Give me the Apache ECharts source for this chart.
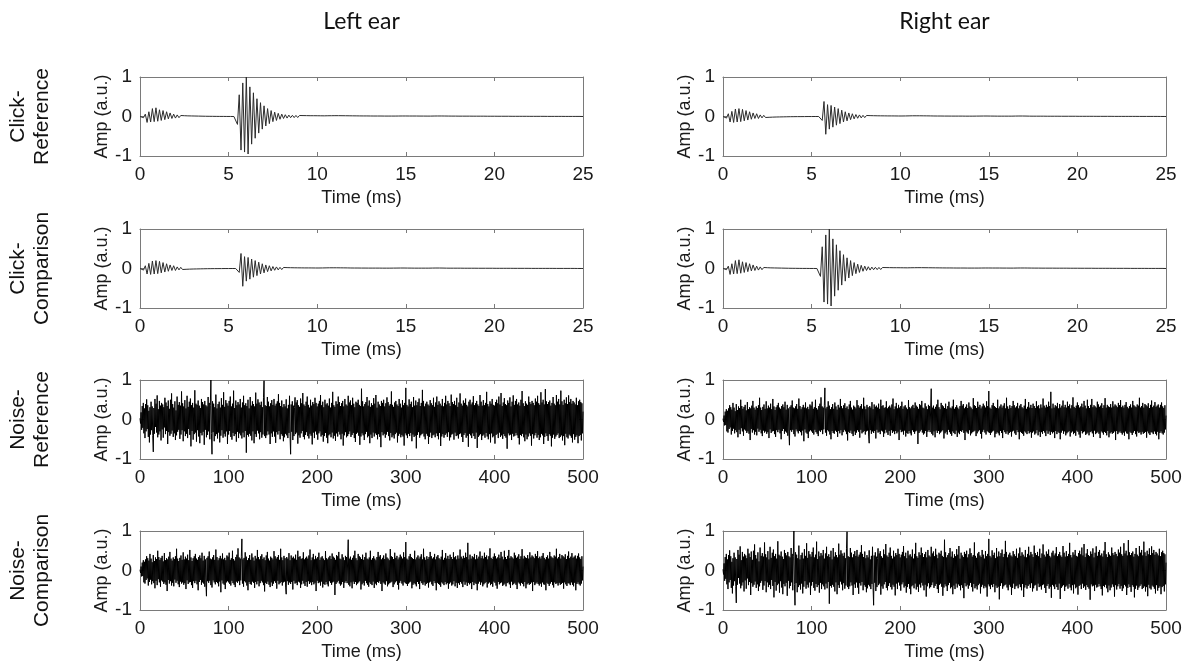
<!DOCTYPE html>
<html>
<head>
<meta charset="utf-8">
<script src="https://cdn.jsdelivr.net/npm/echarts@6/dist/echarts.min.js"></script>
<style>
html, body { margin: 0; padding: 0; background: #fff; }
#main { width: 1189px; height: 667px; }
</style>
</head>
<body>
<div id="main"></div>
<script>
// sample spacing (ms) of the traces
var clickStep = 0.1
var noiseStep = 0.625

var clickTicks = [0, 5, 10, 15, 20, 25]
var noiseTicks = [0, 100, 200, 300, 400, 500]
var ampTicks = [-1, 0, 1]

// strong click (left reference / right comparison), one value per 0.1 ms
var clickLarge = [
    0, 0.04, -0.03, 0.06, -0.15, 0.12, -0.14, 0.2, -0.13, 0.22,
    -0.12, 0.17, -0.1, 0.15, -0.08, 0.12, -0.06, 0.09, -0.05, 0.06,
    -0.04, 0.04, -0.03, 0.025, -0.02, 0.02, -0.018, 0.016, -0.015, 0.014,
    -0.012, 0.012, -0.01, 0.01, -0.008, 0.008, -0.006, 0.006, -0.005, 0.005,
    -0.004, 0.004, -0.003, 0.003, -0.003, 0.002, -0.002, 0.002, -0.002, 0.001,
    -0.001, 0.001, 0, 0, 0, -0.2, 0.55, -0.85, 0.85, -0.9,
    1.0, -0.95, 0.75, -0.7, 0.6, -0.55, 0.45, -0.42, 0.35, -0.32,
    0.27, -0.24, 0.2, -0.18, 0.15, -0.13, 0.11, -0.1, 0.08, -0.07,
    0.06, -0.05, 0.045, -0.04, 0.035, -0.03, 0.03, -0.028, 0.027, -0.026,
    0.025, -0.024, 0.023, -0.022, 0.022, -0.021, 0.02, -0.02, 0.02, -0.019,
    0.019, -0.018, 0.018, -0.018, 0.017, -0.018, 0.019, -0.02, 0.02, -0.021,
    0.021, -0.021, 0.021, -0.02, 0.02, -0.02, 0.019, -0.018, 0.018, -0.017,
    0.017, -0.016, 0.016, -0.015, 0.015, -0.015, 0.014, -0.014, 0.014, -0.013,
    0.013, -0.013, 0.012, -0.012, 0.012, -0.012, 0.012, -0.011, 0.011, -0.011,
    0.011, -0.011, 0.011, -0.01, 0.011, -0.012, 0.012, -0.013, 0.013, -0.013,
    0.013, -0.013, 0.012, -0.012, 0.012, -0.012, 0.012, -0.011, 0.011, -0.011,
    0.011, -0.011, 0.01, -0.01, 0.01, -0.011, 0.012, -0.013, 0.013, -0.013,
    0.013, -0.012, 0.012, -0.011, 0.011, -0.01, 0.01, -0.01, 0.01, -0.009,
    0.009, -0.009, 0.009, -0.009, 0.009, -0.009, 0.009, -0.008, 0.008, -0.008,
    0.008, -0.008, 0.008, -0.008, 0.008, -0.007, 0.007, -0.007, 0.007, -0.007,
    0.007, -0.006, 0.006, -0.006, 0.006, -0.006, 0.006, -0.006, 0.006, -0.005,
    0.005, -0.005, 0.005, -0.005, 0.005, -0.005, 0.005, -0.005, 0.005, -0.004,
    0.004, -0.004, 0.004, -0.004, 0.004, -0.004, 0.004, -0.004, 0.004, -0.004,
    0.003, -0.003, 0.003, -0.003, 0.003, -0.003, 0.003, -0.003, 0.003, -0.003,
    0.002, -0.002, 0.002, -0.002, 0.002, -0.002, 0.002, -0.002, 0.002, -0.002,
    0
]

// weak click (left comparison / right reference)
var clickSmall = [
    0, 0.03, -0.04, 0.07, -0.14, 0.13, -0.15, 0.19, -0.14, 0.2,
    -0.13, 0.18, -0.11, 0.15, -0.09, 0.12, -0.07, 0.09, -0.05, 0.07,
    -0.05, 0.04, -0.035, 0.03, -0.025, 0.022, -0.02, 0.018, -0.016, 0.015,
    -0.013, 0.012, -0.011, 0.01, -0.009, 0.008, -0.007, 0.006, -0.005, 0.005,
    -0.004, 0.004, -0.003, 0.003, -0.003, 0.002, -0.002, 0.002, -0.001, 0.001,
    -0.001, 0, 0, 0, 0, 0, -0.1, 0.38, -0.45, 0.3,
    -0.32, 0.28, -0.27, 0.24, -0.22, 0.2, -0.18, 0.16, -0.14, 0.12,
    -0.11, 0.09, -0.08, 0.07, -0.06, 0.05, -0.045, 0.04, -0.035, 0.03,
    -0.028, 0.026, -0.024, 0.022, -0.02, 0.02, -0.019, 0.018, -0.018, 0.017,
    -0.017, 0.016, -0.016, 0.015, -0.015, 0.015, -0.014, 0.014, -0.014, 0.013,
    -0.013, 0.013, -0.013, 0.014, -0.015, 0.016, -0.017, 0.018, -0.018, 0.018,
    -0.018, 0.018, -0.018, 0.017, -0.016, 0.016, -0.015, 0.015, -0.014, 0.013,
    -0.013, 0.012, -0.012, 0.012, -0.011, 0.011, -0.011, 0.011, -0.01, 0.01,
    -0.01, 0.01, -0.01, 0.01, -0.01, 0.01, -0.01, 0.009, -0.009, 0.009,
    -0.009, 0.009, -0.009, 0.01, -0.011, 0.011, -0.012, 0.012, -0.012, 0.012,
    -0.012, 0.011, -0.011, 0.01, -0.01, 0.009, -0.009, 0.009, -0.009, 0.009,
    -0.009, 0.009, -0.009, 0.009, -0.01, 0.011, -0.012, 0.012, -0.012, 0.012,
    -0.011, 0.011, -0.01, 0.009, -0.009, 0.008, -0.008, 0.008, -0.008, 0.008,
    -0.008, 0.008, -0.007, 0.007, -0.007, 0.007, -0.007, 0.007, -0.007, 0.007,
    -0.006, 0.006, -0.006, 0.006, -0.006, 0.006, -0.006, 0.006, -0.006, 0.006,
    -0.005, 0.005, -0.005, 0.005, -0.005, 0.005, -0.005, 0.005, -0.005, 0.005,
    -0.004, 0.004, -0.004, 0.004, -0.004, 0.004, -0.004, 0.004, -0.004, 0.004,
    -0.003, 0.003, -0.003, 0.003, -0.003, 0.003, -0.003, 0.003, -0.003, 0.003,
    -0.003, 0.003, -0.003, 0.003, -0.002, 0.002, -0.002, 0.002, -0.002, 0.002,
    -0.002, 0.002, -0.002, 0.002, -0.002, 0.002, -0.001, 0.001, -0.001, 0.001,
    0
]

// louder noise (left reference / right comparison), one value per 0.625 ms
var noiseLarge = [
    0.03, -0.1, 0.18, -0.26, 0.34, -0.21, 0.42, -0.35, 0.28, -0.47, 0.39, -0.3, 0.51, -0.24, 0.36, -0.44, 0.22, -0.58, 0.31, -0.38,
    0.45, -0.27, 0.33, -0.41, -0.82, 0.29, -0.36, 0.52, -0.19, 0.4, -0.33, 0.61, -0.45, 0.26, -0.38, 0.47, -0.3, 0.35, -0.53, 0.42,
    -0.25, 0.38, -0.46, 0.31, -0.2, 0.55, -0.37, 0.43, -0.29, 0.34, -0.62, 0.48, -0.32, 0.27, -0.41, 0.5, -0.36, 0.66, -0.28, 0.39,
    -0.44, 0.3, -0.35, 0.46, -0.52, 0.23, -0.4, 0.58, -0.31, 0.37, -0.26, 0.44, -0.49, 0.35, -0.38, 0.71, -0.27, 0.41, -0.55, 0.33,
    -0.3, 0.49, -0.42, 0.28, -0.36, 0.6, -0.47, 0.32, -0.24, 0.45, -0.39, 0.53, -0.68, 0.36, -0.29, 0.42, -0.51, 0.3, -0.37, 0.74,
    -0.33, 0.4, -0.56, 0.37, -0.27, 0.48, -0.43, 0.35, -0.6, 0.29, -0.34, 0.52, -0.4, 0.44, -0.31, 0.38, -0.64, 0.47, -0.26, 0.36,
    -0.45, 0.33, -0.39, 0.57, -0.3, 0.42, -0.5, 0.36, 1.0, -0.35, -0.88, 0.46, -0.32, 0.4, -0.55, 0.31, -0.42, 0.63, -0.37, 0.28,
    -0.48, 0.39, -0.33, 0.45, -0.58, 0.3, -0.41, 0.54, -0.27, 0.37, -0.46, 0.69, -0.36, 0.32, -0.43, 0.49, -0.3, 0.41, -0.62, 0.35,
    -0.38, 0.47, -0.29, 0.58, -0.44, 0.33, -0.51, 0.4, -0.34, 0.73, -0.42, 0.29, -0.37, 0.48, -0.56, 0.36, -0.31, 0.44, -0.47, 0.38,
    -0.35, 0.52, -0.4, 0.3, -0.48, 0.43, -0.33, 0.6, -0.45, 0.36, -0.29, 0.41, -0.84, 0.34, -0.39, 0.5, -0.43, 0.28, -0.36, 0.57,
    -0.41, 0.35, -0.53, 0.46, -0.3, 0.39, -0.6, 0.33, -0.37, 0.68, -0.44, 0.4, -0.28, 0.51, -0.35, 0.43, -0.5, 0.37, -0.32, 0.45,
    -0.46, 0.31, -0.38, 0.55, 0.98, -0.42, 0.36, -0.47, 0.34, -0.4, 0.57, -0.3, 0.45, -0.38, 0.33, -0.62, 0.41, -0.35, 0.49, -0.44,
    0.37, -0.3, 0.52, -0.43, 0.35, -0.59, 0.4, -0.32, 0.46, -0.38, 0.64, -0.29, 0.42, -0.5, 0.34, -0.37, 0.48, -0.41, 0.31, -0.55,
    0.39, -0.45, 0.33, -0.36, 0.51, -0.4, 0.28, -0.47, 0.37, -0.34, 0.6, -0.43, -0.88, 0.38, -0.31, 0.46, -0.52, 0.35, -0.42, 0.3,
    0.56, -0.37, 0.43, -0.33, 0.49, -0.61, 0.36, -0.4, 0.32, -0.46, 0.53, -0.35, 0.41, -0.29, 0.67, -0.44, 0.38, -0.5, 0.34, -0.39,
    0.45, -0.32, 0.58, -0.42, 0.37, -0.48, 0.3, -0.36, 0.5, -0.41, 0.35, -0.63, 0.44, -0.33, 0.39, -0.47, 0.55, -0.3, 0.42, -0.38,
    0.33, -0.51, 0.4, -0.35, 0.47, -0.3, 0.62, -0.43, 0.36, -0.39, 0.45, -0.56, 0.31, -0.42, 0.5, -0.34, 0.38, -0.46, 0.41, -0.6,
    0.35, -0.4, 0.53, -0.37, 0.3, -0.45, 0.42, -0.33, 0.7, -0.48, 0.36, -0.41, 0.32, -0.54, 0.46, -0.35, 0.39, -0.43, 0.58, -0.31,
    0.44, -0.38, 0.34, -0.5, 0.41, -0.36, 0.47, -0.66, 0.33, -0.4, 0.52, -0.32, 0.38, -0.45, 0.35, -0.42, 0.6, -0.37, 0.43, -0.3,
    0.48, -0.44, 0.36, -0.39, 0.55, -0.34, 0.4, -0.47, 0.31, -0.57, 0.45, -0.36, 0.42, -0.33, 0.5, -0.41, 0.37, -0.64, 0.34, -0.43,
    0.78, -0.35, 0.46, -0.4, 0.33, -0.52, 0.39, -0.37, 0.44, -0.31, 0.57, -0.45, 0.35, -0.42, 0.48, -0.6, 0.32, -0.38, 0.41, -0.47,
    0.36, -0.33, 0.54, -0.43, 0.4, -0.35, 0.62, -0.39, 0.3, -0.5, 0.45, -0.37, 0.38, -0.44, 0.34, -0.7, 0.47, -0.32, 0.42, -0.4,
    0.5, -0.36, 0.33, -0.46, 0.41, -0.38, 0.56, -0.31, 0.44, -0.42, 0.35, -0.53, 0.39, -0.34, 0.71, -0.45, 0.37, -0.4, 0.32, -0.48,
    0.43, -0.37, 0.47, -0.33, 0.38, -0.58, 0.34, -0.41, 0.52, -0.36, 0.4, -0.45, 0.3, -0.39, 0.49, -0.43, 0.36, -0.66, 0.42, -0.35,
    0.8, -0.4, 0.37, -0.47, 0.33, -0.36, 0.51, -0.42, 0.39, -0.34, 0.45, -0.55, 0.31, -0.38, 0.57, -0.44, 0.35, -0.41, 0.48, -0.73,
    0.36, -0.39, 0.44, -0.32, 0.53, -0.46, 0.34, -0.4, 0.42, -0.37, 0.75, -0.35, 0.47, -0.43, 0.33, -0.5, 0.4, -0.36, 0.45, -0.41,
    0.38, -0.62, 0.35, -0.44, 0.49, -0.33, 0.41, -0.47, 0.36, -0.4, 0.55, -0.38, 0.32, -0.45, 0.43, -0.35, 0.58, -0.42, 0.37, -0.5,
    0.46, -0.34, 0.4, -0.67, 0.35, -0.43, 0.52, -0.37, 0.33, -0.46, 0.42, -0.39, 0.6, -0.35, 0.38, -0.44, 0.47, -0.32, 0.41, -0.53,
    0.34, -0.45, 0.63, -0.38, 0.44, -0.36, 0.39, -0.51, 0.47, -0.33, 0.36, -0.42, 0.55, -0.4, 0.32, -0.48, 0.43, -0.37, 0.66, -0.35,
    0.4, -0.44, 0.35, -0.57, 0.48, -0.39, 0.42, -0.34, 0.53, -0.46, 0.37, -0.41, 0.33, -0.69, 0.45, -0.36, 0.5, -0.4, 0.38, -0.47,
    0.43, -0.35, 0.59, -0.42, 0.36, -0.49, 0.41, -0.33, 0.47, -0.72, 0.38, -0.44, 0.34, -0.4, 0.62, -0.37, 0.45, -0.52, 0.35, -0.41,
    0.49, -0.38, 0.36, -0.46, 0.42, -0.34, 0.7, -0.43, 0.39, -0.5, 0.33, -0.37, 0.46, -0.58, 0.4, -0.35, 0.52, -0.45, 0.37, -0.42,
    0.35, -0.61, 0.44, -0.39, 0.5, -0.36, 0.41, -0.47, 0.58, -0.33, 0.38, -0.44, 0.67, -0.4, 0.34, -0.49, 0.43, -0.37, 0.54, -0.42,
    0.39, -0.46, 0.36, -0.74, 0.48, -0.35, 0.42, -0.4, 0.56, -0.38, 0.33, -0.52, 0.45, -0.36, 0.61, -0.43, 0.37, -0.41, 0.47, -0.34,
    0.52, -0.4, 0.38, -0.47, 0.43, -0.63, 0.35, -0.39, 0.5, -0.42, 0.72, -0.36, 0.41, -0.45, 0.34, -0.55, 0.46, -0.38, 0.4, -0.5,
    0.37, -0.43, 0.58, -0.35, 0.44, -0.41, 0.39, -0.66, 0.47, -0.37, 0.42, -0.48, 0.36, -0.4, 0.53, -0.34, 0.45, -0.46, 0.6, -0.39,
    0.41, -0.52, 0.37, -0.45, 0.69, -0.36, 0.43, -0.4, 0.5, -0.62, 0.38, -0.44, 0.77, -0.35, 0.46, -0.42, 0.39, -0.54, 0.44, -0.37,
    0.48, -0.41, 0.35, -0.68, 0.42, -0.46, 0.57, -0.38, 0.4, -0.49, 0.36, -0.43, 0.62, -0.39, 0.45, -0.35, 0.52, -0.47, 0.38, -0.44,
    0.73, -0.4, 0.46, -0.53, 0.37, -0.42, 0.5, -0.65, 0.41, -0.36, 0.56, -0.45, 0.39, -0.48, 0.61, -0.38, 0.44, -0.41, 0.52, -0.46,
    0.4, -0.58, 0.47, -0.37, 0.43, -0.51, 0.38, -0.44, 0.55, -0.4, 0.36, -0.6, 0.46, -0.42, 0.5, -0.39, 0.44, -0.53, 0.41, -0.35,
    0.2
]

// quieter noise (left comparison / right reference)
var noiseSmall = [
    0.02, -0.06, 0.1, -0.15, 0.2, -0.14, 0.26, -0.3, 0.22, -0.33, 0.28, -0.24, 0.36, -0.2, 0.31, -0.38, 0.25, -0.29, 0.42, -0.23,
    0.3, -0.35, 0.21, -0.27, 0.39, -0.32, 0.24, -0.45, 0.33, -0.26, 0.29, -0.37, 0.5, -0.22, 0.34, -0.3, 0.27, -0.41, 0.32, -0.25,
    0.37, -0.28, 0.23, -0.34, 0.44, -0.3, 0.26, -0.36, 0.31, -0.52, 0.28, -0.24, 0.35, -0.33, 0.47, -0.27, 0.3, -0.38, 0.25, -0.31,
    0.33, -0.4, 0.29, -0.23, 0.36, -0.31, 0.55, -0.26, 0.3, -0.35, 0.24, -0.42, 0.32, -0.28, 0.38, -0.33, 0.27, -0.3, 0.46, -0.36,
    0.28, -0.32, 0.35, -0.47, 0.3, -0.25, 0.4, -0.34, 0.26, -0.3, 0.52, -0.29, 0.33, -0.37, 0.24, -0.44, 0.31, -0.27, 0.36, -0.32,
    0.42, -0.26, 0.3, -0.35, 0.27, -0.5, 0.34, -0.29, 0.38, -0.24, 0.31, -0.36, 0.45, -0.3, 0.25, -0.33, 0.37, -0.41, 0.28, -0.3,
    -0.65, 0.32, -0.27, 0.36, -0.31, 0.48, -0.26, 0.3, -0.37, 0.28, -0.43, 0.33, -0.25, 0.39, -0.3, 0.27, -0.35, 0.53, -0.29, 0.34,
    -0.32, 0.26, -0.4, 0.31, -0.28, 0.37, -0.55, 0.3, -0.25, 0.43, -0.33, 0.28, -0.36, 0.32, -0.47, 0.26, -0.3, 0.38, -0.27, 0.35,
    -0.3, 0.45, -0.34, 0.27, -0.38, 0.31, -0.26, 0.5, -0.32, 0.29, -0.36, 0.25, -0.42, 0.34, -0.28, 0.4, -0.31, 0.56, -0.27, 0.33,
    -0.37, 0.3, -0.25, 0.36, 0.8, -0.33, 0.28, -0.41, 0.32, -0.27, 0.46, -0.3, 0.35, -0.38, 0.26, -0.5, 0.31, -0.29, 0.39, -0.34,
    0.27, -0.36, 0.43, -0.28, 0.33, -0.31, 0.25, -0.44, 0.37, -0.29, 0.3, -0.35, 0.52, -0.27, 0.34, -0.4, 0.28, -0.32, 0.36, -0.26,
    0.41, -0.3, 0.29, -0.37, 0.33, -0.53, 0.26, -0.31, 0.38, -0.34, 0.47, -0.28, 0.3, -0.36, 0.25, -0.42, 0.35, -0.3, 0.32, -0.39,
    0.28, -0.33, 0.49, -0.27, 0.36, -0.31, 0.3, -0.46, 0.34, -0.26, 0.39, -0.35, 0.27, -0.32, 0.55, -0.29, 0.33, -0.38, 0.26, -0.3,
    0.37, -0.28, 0.31, -0.42, -0.6, 0.34, -0.27, 0.3, -0.36, 0.44, -0.3, 0.26, -0.34, 0.38, -0.29, 0.32, -0.48, 0.35, -0.26, 0.3,
    -0.33, 0.4, -0.31, 0.27, -0.37, 0.5, -0.28, 0.34, -0.3, 0.36, -0.44, 0.29, -0.35, 0.31, -0.26, 0.46, -0.33, 0.28, -0.39, 0.32,
    -0.29, 0.35, -0.41, 0.3, -0.27, 0.38, -0.34, 0.53, -0.3, 0.26, -0.37, 0.33, -0.29, 0.42, -0.35, 0.28, -0.31, 0.37, -0.52, 0.3,
    -0.26, 0.34, -0.32, 0.45, -0.3, 0.27, -0.38, 0.33, -0.28, 0.36, -0.43, 0.3, -0.34, 0.26, -0.36, 0.49, -0.29, 0.31, -0.35, 0.28,
    -0.4, 0.33, -0.27, 0.37, -0.31, 0.29, -0.36, 0.43, -0.3, 0.35, -0.28, 0.32, -0.62, 0.27, -0.34, 0.39, -0.3, 0.36, -0.26, 0.47,
    -0.33, 0.3, -0.38, 0.28, -0.35, 0.41, -0.29, 0.33, -0.44, 0.26, -0.31, 0.37, -0.27, 0.34, -0.32, 0.29, 0.78, -0.36, 0.3, -0.4,
    0.35, -0.3, 0.27, -0.45, 0.32, -0.28, 0.38, -0.34, 0.5, -0.29, 0.31, -0.37, 0.26, -0.33, 0.42, -0.3, 0.36, -0.27, 0.33, -0.48,
    0.29, -0.35, 0.4, -0.31, 0.27, -0.38, 0.34, -0.26, 0.45, -0.32, 0.3, -0.36, 0.28, -0.41, 0.33, -0.3, 0.5, -0.34, 0.27, -0.37,
    0.31, -0.28, 0.36, -0.44, 0.3, -0.33, 0.26, -0.37, 0.34, -0.29, 0.47, -0.31, 0.35, -0.27, 0.39, -0.34, 0.28, -0.52, 0.32, -0.3,
    0.38, -0.33, 0.29, -0.36, 0.43, -0.27, 0.33, -0.4, 0.3, -0.35, 0.26, -0.32, 0.54, -0.3, 0.36, -0.28, 0.34, -0.42, 0.29, -0.35,
    0.45, -0.3, 0.32, -0.27, 0.37, -0.36, 0.28, -0.48, 0.33, -0.31, 0.4, -0.26, 0.35, -0.33, 0.3, -0.38, 0.46, -0.29, 0.34, -0.32,
    0.72, -0.34, 0.3, -0.39, 0.27, -0.33, 0.36, -0.3, 0.42, -0.28, 0.34, -0.45, 0.31, -0.36, 0.29, -0.32, 0.5, -0.35, 0.28, -0.4,
    0.33, -0.29, 0.38, -0.34, 0.3, -0.47, 0.35, -0.27, 0.41, -0.32, 0.28, -0.36, 0.55, -0.3, 0.33, -0.38, 0.27, -0.34, 0.36, -0.31,
    0.29, -0.43, 0.34, -0.3, 0.47, -0.28, 0.36, -0.35, 0.3, -0.39, 0.33, -0.27, 0.42, -0.32, 0.28, -0.5, 0.35, -0.31, 0.39, -0.34,
    0.31, -0.36, 0.28, -0.41, 0.35, -0.3, 0.52, -0.33, 0.27, -0.37, 0.32, -0.29, 0.44, -0.35, 0.3, -0.32, 0.37, -0.46, 0.29, -0.33,
    0.4, -0.3, 0.34, -0.38, 0.29, -0.35, 0.46, -0.27, 0.33, -0.4, 0.36, -0.31, 0.28, -0.44, 0.38, -0.32, 0.3, -0.36, 0.53, -0.29,
    0.35, -0.33, 0.3, -0.42, 0.37, -0.28, 0.32, -0.36, 0.45, -0.3, 0.34, -0.39, 0.7, -0.31, 0.28, -0.35, 0.4, -0.32, 0.3, -0.47,
    0.36, -0.29, 0.33, -0.37, 0.42, -0.31, 0.28, -0.34, 0.39, -0.5, 0.3, -0.33, 0.35, -0.28, 0.48, -0.36, 0.31, -0.3, 0.37, -0.4,
    0.3, -0.35, 0.45, -0.32, 0.34, -0.29, 0.38, -0.43, 0.28, -0.33, 0.36, -0.3, 0.56, -0.37, 0.32, -0.34, 0.29, -0.41, 0.35, -0.28,
    0.43, -0.31, 0.36, -0.38, 0.3, -0.46, 0.33, -0.29, 0.4, -0.35, 0.31, -0.32, 0.47, -0.3, 0.35, -0.39, 0.28, -0.36, 0.5, -0.33,
    0.34, -0.4, 0.29, -0.32, 0.37, -0.3, 0.52, -0.35, 0.31, -0.44, 0.36, -0.28, 0.33, -0.37, 0.3, -0.34, 0.45, -0.31, 0.38, -0.36,
    0.32, -0.47, 0.35, -0.3, 0.41, -0.33, 0.29, -0.38, 0.36, -0.31, 0.54, -0.34, 0.3, -0.4, 0.37, -0.29, 0.33, -0.45, 0.31, -0.35,
    0.39, -0.32, 0.3, -0.36, 0.46, -0.34, 0.33, -0.3, 0.38, -0.52, 0.35, -0.29, 0.31, -0.37, 0.42, -0.33, 0.36, -0.3, 0.49, -0.34,
    0.31, -0.38, 0.35, -0.33, 0.3, -0.41, 0.37, -0.3, 0.44, -0.35, 0.32, -0.36, 0.28, -0.5, 0.34, -0.31, 0.38, -0.34, 0.3, -0.39,
    0.47, -0.33, 0.36, -0.29, 0.33, -0.37, 0.31, -0.43, 0.38, -0.3, 0.35, -0.34, 0.55, -0.32, 0.3, -0.38, 0.34, -0.31, 0.42, -0.36,
    0.3, -0.34, 0.39, -0.31, 0.36, -0.46, 0.33, -0.3, 0.41, -0.35, 0.29, -0.39, 0.37, -0.32, 0.48, -0.33, 0.31, -0.37, 0.35, -0.3,
    0.44, -0.36, 0.32, -0.4, 0.35, -0.31, 0.38, -0.5, 0.3, -0.34, 0.37, -0.3, 0.43, -0.35, 0.33, -0.38, 0.29, -0.33, 0.36, -0.25,
    0.1
]

var columnTitles = ['Left ear', 'Right ear']
var rowTitles = ['Click-\nReference', 'Click-\nComparison', 'Noise-\nReference', 'Noise-\nComparison']

// panels in reading order: left/right for each row
var panels = [
    {values: clickLarge, step: clickStep, ticks: clickTicks},
    {values: clickSmall, step: clickStep, ticks: clickTicks},
    {values: clickSmall, step: clickStep, ticks: clickTicks},
    {values: clickLarge, step: clickStep, ticks: clickTicks},
    {values: noiseLarge, step: noiseStep, ticks: noiseTicks},
    {values: noiseSmall, step: noiseStep, ticks: noiseTicks},
    {values: noiseSmall, step: noiseStep, ticks: noiseTicks},
    {values: noiseLarge, step: noiseStep, ticks: noiseTicks}
]

var colLeft = [140, 723]
var rowTop = [77, 229, 380, 531]
var plotW = 443
var plotH = 79
var axisColor = '#7a7a7a'
var labelFont = 'Liberation Sans, Arial, sans-serif'

function buildChart() {
    var chart = echarts.init(document.getElementById('main'))
    var grid = [], xAxis = [], yAxis = [], series = [], graphic = []

    panels.forEach(function (p, i) {
        var row = Math.floor(i / 2), col = i % 2
        var xMax = p.ticks[p.ticks.length - 1]
        var xInterval = p.ticks[1] - p.ticks[0]
        grid.push({left: colLeft[col], top: rowTop[row], width: plotW, height: plotH})

        var common = {
            gridIndex: i,
            type: 'value',
            splitLine: {show: false},
            axisLine: {show: true, onZero: false, lineStyle: {color: axisColor, width: 1}},
            axisTick: {show: true, inside: true, length: 4, lineStyle: {color: axisColor}}
        }
        // bottom x axis with labels, top one only for the box ticks
        xAxis.push(Object.assign({}, common, {
            position: 'bottom', min: 0, max: xMax, interval: xInterval,
            name: 'Time (ms)', nameLocation: 'middle', nameGap: 33,
            nameTextStyle: {color: '#1a1a1a', fontSize: 18, fontFamily: labelFont},
            axisLabel: {color: '#1a1a1a', fontSize: 19, fontFamily: labelFont, margin: 9, showMinLabel: true, showMaxLabel: true}
        }))
        xAxis.push(Object.assign({}, common, {
            position: 'top', min: 0, max: xMax, interval: xInterval,
            axisLabel: {show: false}
        }))
        yAxis.push(Object.assign({}, common, {
            position: 'left', min: ampTicks[0], max: ampTicks[2], interval: 1,
            name: 'Amp (a.u.)', nameLocation: 'middle', nameGap: 27,
            nameTextStyle: {color: '#1a1a1a', fontSize: 18, fontFamily: labelFont},
            axisLabel: {color: '#1a1a1a', fontSize: 19, fontFamily: labelFont, margin: 8, showMinLabel: true, showMaxLabel: true}
        }))
        yAxis.push(Object.assign({}, common, {
            position: 'right', min: ampTicks[0], max: ampTicks[2], interval: 1,
            axisLabel: {show: false}
        }))

        series.push({
            type: 'line',
            xAxisIndex: i * 2,
            yAxisIndex: i * 2,
            data: p.values.map(function (v, k) { return [k * p.step, v] }),
            symbol: 'none',
            silent: true,
            animation: false,
            lineStyle: {color: row < 2 ? '#2b2b2b' : '#000', width: 1}
        })
    })

    columnTitles.forEach(function (t, c) {
        graphic.push({
            type: 'text', x: colLeft[c] + plotW / 2, y: 22,
            style: {text: t, fontSize: 23, fontFamily: 'Lato, Open Sans, sans-serif', fill: '#111', align: 'center', verticalAlign: 'middle'}
        })
    })
    rowTitles.forEach(function (t, r) {
        graphic.push({
            type: 'text', x: 30, y: rowTop[r] + plotH / 2, rotation: Math.PI / 2,
            style: {text: t, fontSize: 21, lineHeight: 24, fontFamily: labelFont, fill: '#111', align: 'center', verticalAlign: 'middle'}
        })
    })

    chart.setOption({
        animation: false,
        grid: grid,
        xAxis: xAxis,
        yAxis: yAxis,
        series: series,
        graphic: graphic
    })
}

buildChart()
</script>
</body>
</html>
